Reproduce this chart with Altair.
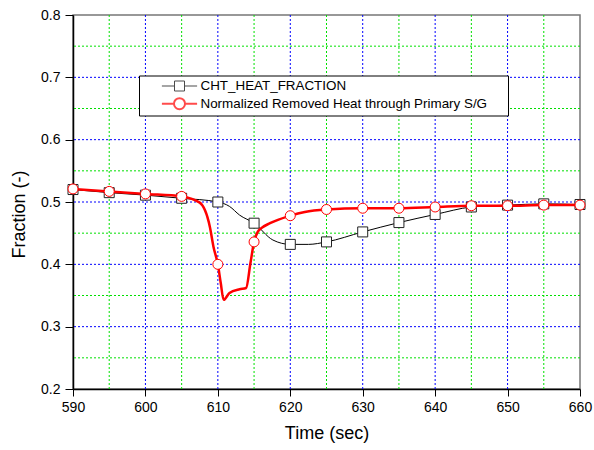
import altair as alt
import pandas as pd

S1 = "CHT_HEAT_FRACTION"
S2 = "Normalized Removed Heat through Primary S/G"

t_marks = [590, 595, 600, 605, 610, 615, 620, 625, 630, 635, 640, 645, 650, 655, 660]
cht_marks = [0.520, 0.515, 0.511, 0.506, 0.500, 0.466, 0.432, 0.436, 0.452, 0.467, 0.480, 0.492, 0.495, 0.497, 0.496]
red_marks = [0.521, 0.517, 0.513, 0.509, 0.400, 0.436, 0.478, 0.488, 0.490, 0.490, 0.492, 0.494, 0.494, 0.495, 0.495]

t_cht_line = [590, 595, 600, 605, 610, 611.6, 613, 615, 617.6, 620, 622.5, 625, 630, 635, 640, 645, 650, 655, 660]
cht_line = [0.520, 0.515, 0.511, 0.506, 0.500, 0.493, 0.479, 0.466, 0.439, 0.432, 0.432, 0.436, 0.452, 0.467, 0.480, 0.492, 0.495, 0.497, 0.496]

t_red_line = [590, 595, 600, 605, 607.5, 608.9, 609.4, 610, 610.4, 610.8, 611.6, 613, 613.9, 614.5, 615,
              615.5, 616, 617.2, 620, 622, 625, 630, 635, 640, 645, 650, 655, 660]
red_line = [0.521, 0.517, 0.513, 0.509, 0.499, 0.460, 0.428, 0.400, 0.370, 0.343, 0.354, 0.360, 0.362, 0.402, 0.436,
            0.452, 0.458, 0.466, 0.478, 0.484, 0.488, 0.490, 0.490, 0.492, 0.494, 0.494, 0.495, 0.495]

x_ticks = [590, 595, 600, 605, 610, 615, 620, 625, 630, 635, 640, 645, 650, 655, 660]
y_ticks = [0.2, 0.25, 0.3, 0.35, 0.4, 0.45, 0.5, 0.55, 0.6, 0.65, 0.7, 0.75, 0.8]
grid_x_major = [600, 610, 620, 630, 640, 650]
grid_x_minor = [595, 605, 615, 625, 635, 645, 655]
grid_y_major = [0.3, 0.4, 0.5, 0.6, 0.7]
grid_y_minor = [0.25, 0.35, 0.45, 0.55, 0.65, 0.75]

df_cht_line = pd.DataFrame({"t": t_cht_line, "v": cht_line})
df_red_line = pd.DataFrame({"t": t_red_line, "v": red_line})
df_cht_pts = pd.DataFrame({"t": t_marks, "v": cht_marks})
df_red_pts = pd.DataFrame({"t": t_marks, "v": red_marks})
df_leg = pd.DataFrame({"series": [S1, S2]})

FONT = "Liberation Sans"
BLUE = "#0000ff"
GREEN = "#00e000"

xmaj = "datum.value % 10 === 0"
ymaj = "abs(datum.value * 10 - round(datum.value * 10)) < 0.001"

x_axis = alt.Axis(
    values=x_ticks, title="Time (sec)", grid=False, labelFlush=False, labelOverlap=False,
    labelExpr=f"{xmaj} ? datum.label : ''",
    tickSize={"condition": {"test": xmaj, "value": 7}, "value": 4},
    labelPadding=4, titlePadding=10,
)
y_axis = alt.Axis(
    values=y_ticks, title="Fraction (-)", grid=False, labelFlush=False, labelOverlap=False,
    format=".1f", labelExpr=f"{ymaj} ? datum.label : ''",
    tickSize={"condition": {"test": ymaj, "value": 8}, "value": 4},
    labelPadding=5, titlePadding=12, titleY=199,
)

xs = alt.Scale(domain=[590, 660], nice=False)
ys = alt.Scale(domain=[0.2, 0.8], nice=False, zero=False)
X = alt.X("t:Q", scale=xs)
Y = alt.Y("v:Q", scale=ys)


def vgrid(vals, color):
    return alt.Chart(pd.DataFrame({"t": vals})).mark_rule(
        color=color, strokeWidth=1, strokeDash=[2, 2]).encode(x=X)


def hgrid(vals, color):
    return alt.Chart(pd.DataFrame({"v": vals})).mark_rule(
        color=color, strokeWidth=1, strokeDash=[2, 2]).encode(y=Y)


black_line = alt.Chart(df_cht_line).mark_line(color="black", strokeWidth=1, interpolate="monotone").encode(
    x=alt.X("t:Q", scale=xs, axis=x_axis),
    y=alt.Y("v:Q", scale=ys, axis=y_axis),
)
black_pts = alt.Chart(df_cht_pts).mark_point(shape="square", size=100, filled=True, fill="white",
                                              stroke="#222222", strokeWidth=1, opacity=1).encode(x=X, y=Y)
red_ln = alt.Chart(df_red_line).mark_line(color="#ff0000", strokeWidth=2.5, interpolate="monotone").encode(x=X, y=Y)
red_pts = alt.Chart(df_red_pts).mark_point(shape="circle", size=100, filled=True, fill="white",
                                            stroke="#ff0000", strokeWidth=1, opacity=1).encode(x=X, y=Y)

path_sq = "M-2.2,0H-0.625M0.625,0H2.2M-0.625,-0.625H0.625V0.625H-0.625Z"
path_ci = ("M-2.2,0H-0.69M0.69,0H2.2M0.69,0A0.69,0.69 0 1,1 -0.69,0A0.69,0.69 0 1,1 0.69,0Z")

leg = alt.Legend(
    title=None,
    orient="none", legendX=66, legendY=60.5,
    strokeColor="black", fillColor="white", padding=2, cornerRadius=0,
    labelFont=FONT, labelFontSize=13.4, labelColor="black",
    symbolSize=256, symbolOffset=29.5, labelOffset=12, rowPadding=0.2,
    symbolFillColor="white", labelLimit=400,
    labelExpr="datum.label + '\u00a0\u00a0\u00a0\u00a0\u00a0\u200b'",
)
legend_layer = alt.Chart(df_leg).mark_point(filled=True, fill="white").encode(
    stroke=alt.Stroke("series:N", scale=alt.Scale(domain=[S1, S2], range=["black", "#ff0000"]), legend=leg),
    shape=alt.Shape("series:N", scale=alt.Scale(domain=[S1, S2], range=[path_sq, path_ci]), legend=leg),
    strokeWidth=alt.StrokeWidth("series:N", scale=alt.Scale(domain=[S1, S2], range=[1, 2]), legend=leg),
).transform_filter("false")

chart = alt.layer(
    vgrid(grid_x_minor, GREEN), hgrid(grid_y_minor, GREEN),
    vgrid(grid_x_major, BLUE), hgrid(grid_y_major, BLUE),
    black_line, black_pts, red_ln, red_pts, legend_layer,
).properties(
    width=507, height=374,
    autosize=alt.AutoSizeParams(type="none"),
    padding={"left": 73, "top": 15, "right": 14, "bottom": 61},
).configure_view(
    stroke="#777777", strokeWidth=1.5,
).configure_axis(
    labelFont=FONT, labelFontSize=14, labelColor="black",
    titleFont=FONT, titleFontSize=18, titleFontWeight="normal", titleColor="black",
    domainColor="black", domainWidth=1.5, tickColor="black", tickWidth=1,
)

chart.save("out.html", embed_options={"renderer": "svg", "actions": False})
